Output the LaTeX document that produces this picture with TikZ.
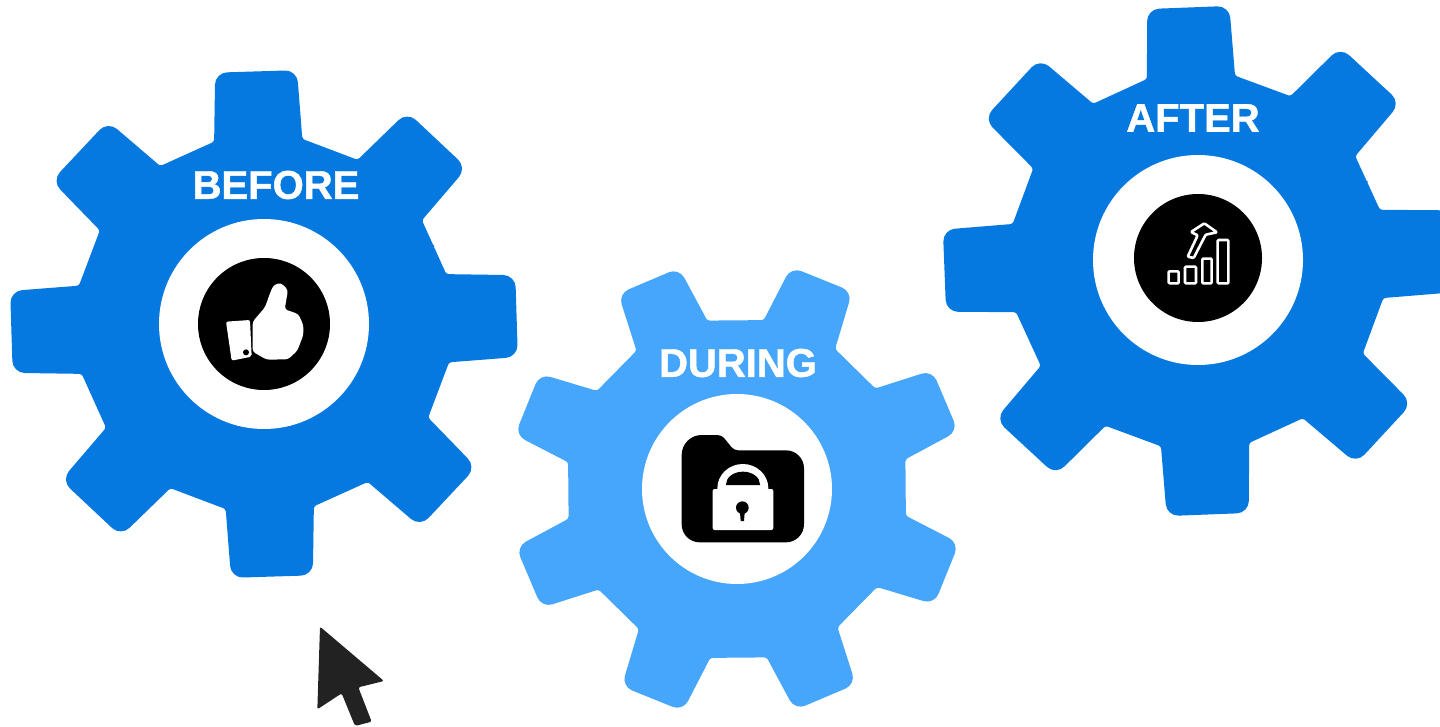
\documentclass[tikz,border=0pt]{standalone}
\usepackage{fontspec}
\setmainfont{Liberation Sans}[BoldFeatures={FakeBold=1.2}]
\definecolor{gearblue}{HTML}{0579DF}
\definecolor{gearlight}{HTML}{46A6FB}
\definecolor{cursorgray}{HTML}{222222}
\newcommand{\gearshape}[9]{% cx cy phase rbody rtip baseang tipang colour tipround
  \fill[#8,shift={(#1,#2)}] ({#3-22.5}:{#4*cos(22.5-#6)})
    \foreach \i [evaluate=\i as \a using #3+\i*45] in {0,...,7}{
      [rounded corners=2.5pt] -- ({\a-#6}:#4)
      [rounded corners=#9] -- ({\a-#7}:#5)
      -- ({\a+#7}:#5)
      [rounded corners=2.5pt] -- ({\a+#6}:#4)
      -- ({\a+22.5}:{#4*cos(22.5-#6)})
    } -- cycle;
}
\tikzset{
  gearlabel/.style={text=white,font=\bfseries\fontsize{40}{40}\selectfont,inner sep=0pt,draw=none},
  hole/.style={fill=white},
  disc/.style={fill=black},
  barline/.style={draw=white,line width=2.6pt,rounded corners=1pt},
}
\begin{document}
\begin{tikzpicture}[x=1pt,y=-1pt]
\useasboundingbox (0,0) rectangle (1440,727);
\clip (0,0) rectangle (1440,727);
\fill[white] (0,0) rectangle (1440,727);
% gears
\gearshape{264}{324}{-1.8}{189}{256}{13.5}{9.2}{gearblue}{12pt}
\gearshape{737}{489}{22}{171}{228.5}{13}{8.3}{gearlight}{11pt}
\gearshape{1198}{261}{-2.2}{189}{257}{13.5}{9.2}{gearblue}{12pt}
% holes
\fill[hole] (264,324) circle (105);
\fill[hole] (737,489) circle (95);
\fill[hole] (1198,260) circle (105);
% thumb icon
\fill[disc] (264,324) circle (66);
\begin{scope}[shift={(150,210)},scale=1/3]
\fill[white,rounded corners=2pt] (228,335) -- (300,330) -- (305,440) -- (245,452) -- cycle;
\fill[black] (288,427) circle (9);
\fill[white,rounded corners=3pt] (308,335) -- (345,292) -- (360,250) -- (370,226) -- (392,218) -- (414,240) -- (404,298) -- (445,312) -- (460,345) -- (460,375) -- (442,422) -- (414,448) -- (350,449) -- (308,425) -- cycle;
\end{scope}
% folder icon
\begin{scope}[shift={(630,385)},scale=1/3]
\fill[black] (155,300) [rounded corners=20pt] -- (155,150) [rounded corners=4pt] -- (275,150) -- (312,196) [rounded corners=18pt] -- (522,196) -- (522,472) -- (155,472) -- cycle;
\fill[white] (262,315) -- (262,310) arc[start angle=180,end angle=360,x radius=76.5,y radius=73] -- (415,315) -- cycle;
\fill[black] (288,300) -- (288,298) arc[start angle=180,end angle=360,x radius=51,y radius=38] -- (390,300) -- cycle;
\fill[white,rounded corners=2pt] (248,312) rectangle (430,435);
\fill[black] (337,368) circle (19);
\fill[black] (329,370) -- (345,370) -- (342,408) -- (332,408) -- cycle;
\end{scope}
% chart icon
\fill[disc] (1198,258) circle (64);
\begin{scope}[shift={(1085,150)},scale=1/3]
\draw[barline] (251,364) rectangle (281,400);
\draw[barline] (300,350) rectangle (333,400);
\draw[barline] (352,326) rectangle (380,400);
\draw[barline] (398,270) rectangle (430,400);
\draw[barline,line join=round] (308,320) -- (338,256) -- (318,246) -- (358,220) -- (396,247) -- (362,254) -- (326,324) -- cycle;
\end{scope}
% cursor
\begin{scope}[shift={(290,610)},scale=1/3]
\fill[cursorgray,rounded corners=2pt] (90,50) -- (282,213) -- (205,232) -- (245,335) -- (195,348) -- (155,250) -- (82,298) -- cycle;
\end{scope}
% labels
\node[gearlabel] (before) at (276,185) {BEFORE};
\node[gearlabel] (during) at (738,363) {DURING};
\node[gearlabel] (after) at (1193,118) {AFTER};
\end{tikzpicture}
\end{document}
